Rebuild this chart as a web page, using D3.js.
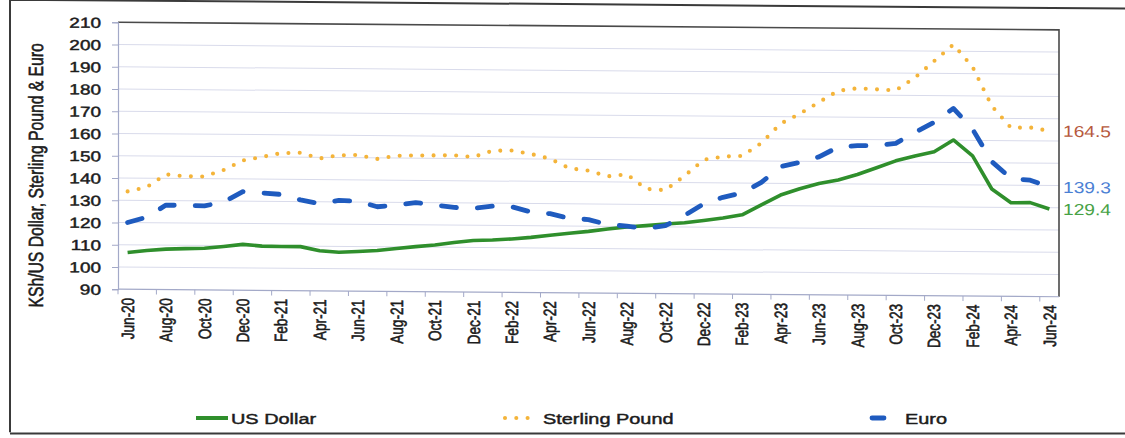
<!DOCTYPE html>
<html>
<head>
<meta charset="utf-8">
<script src="https://cdn.jsdelivr.net/npm/d3@7"></script>
<style>
  html, body { margin: 0; padding: 0; background: #ffffff; }
  svg { display: block; }
  text { font-family: "Liberation Sans", Arial, sans-serif; }
  .ink { stroke-width: 0.45px; paint-order: stroke; }
</style>
</head>
<body>
<svg id="chart" width="1125" height="438"></svg>
<script>
// Monthly categories, June 2020 – June 2024
const months = [
  "Jun-20","Jul-20","Aug-20","Sep-20","Oct-20","Nov-20","Dec-20",
  "Jan-21","Feb-21","Mar-21","Apr-21","May-21","Jun-21","Jul-21","Aug-21","Sep-21","Oct-21","Nov-21","Dec-21",
  "Jan-22","Feb-22","Mar-22","Apr-22","May-22","Jun-22","Jul-22","Aug-22","Sep-22","Oct-22","Nov-22","Dec-22",
  "Jan-23","Feb-23","Mar-23","Apr-23","May-23","Jun-23","Jul-23","Aug-23","Sep-23","Oct-23","Nov-23","Dec-23",
  "Jan-24","Feb-24","Mar-24","Apr-24","May-24","Jun-24"
];

// KSh per unit of foreign currency
const usDollar = [
  106.5,107.5,108.2,108.5,108.7,109.6,110.6,
  109.9,109.8,109.8,108.0,107.4,107.8,108.3,109.3,110.2,111.0,112.2,113.2,
  113.5,114.0,114.8,115.8,116.8,117.7,118.8,119.8,120.5,121.3,121.9,123.0,
  124.2,125.7,130.2,134.7,137.6,140.0,141.7,144.2,147.3,150.5,152.8,154.7,
  160.1,153.0,138.2,132.1,132.2,129.4
];
const sterlingPound = [
  134.0,136.0,141.8,141.0,141.0,144.0,148.3,
  150.0,151.8,152.0,149.5,151.0,151.2,149.5,151.0,151.2,151.3,151.4,150.7,
  153.6,153.8,152.3,150.2,146.0,145.0,142.5,143.5,137.0,136.5,143.0,150.3,
  151.8,152.2,158.0,166.8,171.3,176.6,181.8,183.0,182.6,182.2,188.0,195.5,
  203.0,193.0,175.5,165.8,166.0,164.5
];
const euro = [
  120.0,122.5,128.0,127.9,127.8,129.5,134.3,
  133.8,133.2,130.8,129.2,130.7,130.4,128.0,128.8,130.0,129.0,128.0,127.6,
  128.7,128.5,126.2,125.5,123.5,123.0,120.8,120.2,119.2,120.5,125.2,130.5,
  133.5,135.5,140.3,147.5,149.5,152.0,156.5,157.2,157.2,158.4,163.3,168.0,
  174.3,165.0,150.5,143.0,142.3,139.3
];

const yTicks = [90,100,110,120,130,140,150,160,170,180,190,200,210];
const xTickLabels = months.filter((m, i) => i % 2 === 0);
const seriesNames = ["US Dollar", "Sterling Pound", "Euro"];
const yAxisTitle = "KSh/US Dollar, Sterling Pound & Euro";

// ---- layout & style ----
const plot = { left: 118, right: 1059, top: 22.3, bottom: 289.2 };
const slope = 0.008;          // slight baseline slant of the whole drawing
const sx = 1.31;              // horizontal text widening
const colors = { usd: "#2f8f2c", gbp: "#f4b43a", eur: "#1f5bbf" };
const labelColors = { usd: "#47a245", gbp: "#b6593d", eur: "#4b80d4" };
const axisColor = "#a3a9c8";
const gridColor = "#d9dbeb";
const textColor = "#1c1c1c";

const svg = d3.select("#chart");

const g = svg.append("g")
  .attr("transform", `matrix(1,${slope},0,1,0,${-plot.left * slope})`);

// outer frame (left and top edges)
g.append("path")
  .attr("d", "M10,433 L10,0.5 L1125,0.5")
  .attr("fill", "none").attr("stroke", "#3a3a3a").attr("stroke-width", 2);

const x = d3.scaleBand().domain(months).range([plot.left, plot.right]).padding(0);
const xc = m => x(m) + x.bandwidth() / 2;
const y = d3.scaleLinear().domain([90, 210]).range([plot.bottom, plot.top]);

// horizontal gridlines
g.append("g").selectAll("line")
  .data(yTicks.filter(v => v > 90 && v < 210))
  .join("line")
  .attr("x1", plot.left).attr("x2", plot.right)
  .attr("y1", d => y(d)).attr("y2", d => y(d))
  .attr("stroke", gridColor).attr("stroke-width", 1);

// plot-area border: top and right
g.append("path")
  .attr("d", `M${plot.left},${y(210)} L${plot.right},${y(210)} L${plot.right},${plot.bottom}`)
  .attr("fill", "none").attr("stroke", "#4a4a4a").attr("stroke-width", 1.6);

// y axis
const yAxisG = g.append("g")
  .attr("transform", `translate(${plot.left},0)`)
  .call(d3.axisLeft(y).tickValues(yTicks).tickSize(6).tickFormat(d3.format("d")));
yAxisG.select(".domain").attr("stroke", axisColor).attr("stroke-width", 1.2);
yAxisG.selectAll(".tick line").attr("stroke", axisColor);
yAxisG.selectAll(".tick text")
  .attr("class", "ink")
  .attr("x", -13).attr("dy", "0.36em")
  .attr("transform", `scale(${sx},1)`)
  .attr("font-size", 14.5)
  .attr("font-family", "Liberation Sans, Arial, sans-serif")
  .attr("fill", textColor).attr("stroke", textColor);

// x axis line with tick marks every two months
g.append("line")
  .attr("x1", plot.left).attr("x2", plot.right)
  .attr("y1", plot.bottom).attr("y2", plot.bottom)
  .attr("stroke", axisColor).attr("stroke-width", 1.2);
g.append("g").selectAll("line")
  .data(xTickLabels)
  .join("line")
  .attr("x1", d => x(d)).attr("x2", d => x(d))
  .attr("y1", plot.bottom).attr("y2", plot.bottom + 5)
  .attr("stroke", axisColor);

// x tick labels, rotated
g.append("g").selectAll("text")
  .data(xTickLabels)
  .join("text")
  .attr("class", "ink")
  .attr("transform", d => `translate(${xc(d)},${plot.bottom + 8.5}) scale(${sx},1) rotate(-90)`)
  .attr("text-anchor", "end")
  .attr("dy", "0.35em")
  .attr("font-size", 13.6)
  .attr("fill", textColor).attr("stroke", textColor)
  .text(d => d);

// y axis title
g.append("text")
  .attr("class", "ink")
  .attr("transform", `translate(36,176) scale(${sx},1) rotate(-90)`)
  .attr("text-anchor", "middle")
  .attr("dy", "0.35em")
  .attr("font-size", 15.7)
  .attr("fill", textColor).attr("stroke", textColor)
  .text(yAxisTitle);

// series lines
const line = d3.line().x((d, i) => xc(months[i])).y(d => y(d));

g.append("path").datum(usDollar)
  .attr("d", line).attr("fill", "none")
  .attr("stroke", colors.usd).attr("stroke-width", 3.6)
  .attr("stroke-linejoin", "round");

g.append("path").datum(sterlingPound)
  .attr("d", line).attr("fill", "none")
  .attr("stroke", colors.gbp).attr("stroke-width", 4.1)
  .attr("stroke-linecap", "round").attr("stroke-dasharray", "0 11.3");

g.append("path").datum(euro)
  .attr("d", line).attr("fill", "none")
  .attr("stroke", colors.eur).attr("stroke-width", 4.8)
  .attr("stroke-linecap", "round").attr("stroke-linejoin", "round")
  .attr("stroke-dasharray", "15 21");

// closing values at the right edge
const endData = [
  { v: sterlingPound[sterlingPound.length - 1], c: labelColors.gbp },
  { v: euro[euro.length - 1], c: labelColors.eur },
  { v: usDollar[usDollar.length - 1], c: labelColors.usd }
];
g.append("g").selectAll("text")
  .data(endData)
  .join("text")
  .attr("transform", d => `translate(1063,${y(d.v)}) scale(1.2,1)`)
  .attr("dy", "0.36em")
  .attr("font-size", 16)
  .attr("fill", d => d.c)
  .text(d => d.v.toFixed(1));

// legend
const lg = svg.append("g");
lg.append("path").attr("d", "M10,433.5 L1125,433.5")
  .attr("stroke", "#3a3a3a").attr("stroke-width", 2);

lg.append("line").attr("x1", 196).attr("x2", 228).attr("y1", 418).attr("y2", 418)
  .attr("stroke", colors.usd).attr("stroke-width", 4);
lg.append("line").attr("x1", 505).attr("x2", 528).attr("y1", 418).attr("y2", 418)
  .attr("stroke", colors.gbp).attr("stroke-width", 4.1)
  .attr("stroke-linecap", "round").attr("stroke-dasharray", "0 11.3");
lg.append("line").attr("x1", 872).attr("x2", 884).attr("y1", 418).attr("y2", 418)
  .attr("stroke", colors.eur).attr("stroke-width", 4.8).attr("stroke-linecap", "round");

const legendText = [
  { x: 231, t: seriesNames[0] },
  { x: 543, t: seriesNames[1] },
  { x: 905, t: seriesNames[2] }
];
lg.selectAll("text.leg")
  .data(legendText)
  .join("text")
  .attr("class", "leg ink")
  .attr("transform", d => `translate(${d.x},423.5) scale(${sx},1)`)
  .attr("font-size", 15.2)
  .attr("fill", textColor).attr("stroke", textColor)
  .text(d => d.t);
</script>
</body>
</html>
